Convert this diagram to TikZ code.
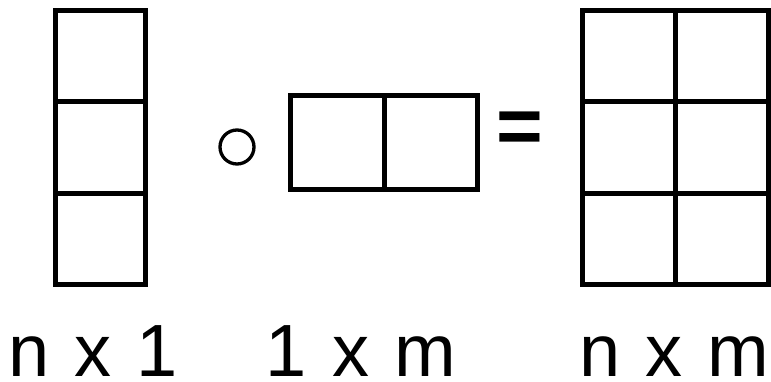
\documentclass[tikz,border=0pt]{standalone}
\usepackage{fontspec}
\setmainfont{Liberation Sans}
\usepackage{tikz}

\newcommand{\dimsfont}{\fontsize{74}{80}\selectfont\spaceskip=0.34em\relax}

\begin{document}
\begin{tikzpicture}[
    x=1pt,
    y=-1pt,
    cell/.style={
        draw,
        line width=5pt,
        inner sep=0pt,
        minimum width=93pt,
        minimum height=91.5pt
    },
    narrow/.style={
        cell,
        minimum width=89.5pt
    },
    wide/.style={
        cell,
        minimum width=93.5pt,
        minimum height=94pt
    },
    op/.style={
        circle,
        draw,
        line width=3.3pt,
        minimum size=34pt,
        inner sep=0pt
    },
    dims/.style={
        anchor=base,
        inner sep=0pt,
        font=\dimsfont
    }
]
    \useasboundingbox (0,0) rectangle (771,382);
    % n x 1 column
    \node[narrow] (a1) at (100.25,56) {};
    \node[narrow] (a2) at (100.25,147.5) {};
    \node[narrow] (a3) at (100.25,239) {};
    % outer product sign
    \node[op] (prod) at (237,147) {};
    % 1 x m row
    \node[wide] (b1) at (337.25,142.5) {};
    \node[wide] (b2) at (430.75,142.5) {};
    \node[anchor=center, inner sep=0pt, font=\fontsize{80}{90}\bfseries] (eq) at (519.5,132.5) {=};
    % n x m result
    \node[cell] (c11) at (628.5,56) {};
    \node[cell] (c12) at (721.5,56) {};
    \node[cell] (c21) at (628.5,147.5) {};
    \node[cell] (c22) at (721.5,147.5) {};
    \node[cell] (c31) at (628.5,239) {};
    \node[cell] (c32) at (721.5,239) {};
    % labels
    \node[dims] (la) at (93,376) {n x 1};
    \node[dims] (lb) at (361,376) {1 x m};
    \node[dims] (lc) at (674.5,376) {n x m};
\end{tikzpicture}
\end{document}
